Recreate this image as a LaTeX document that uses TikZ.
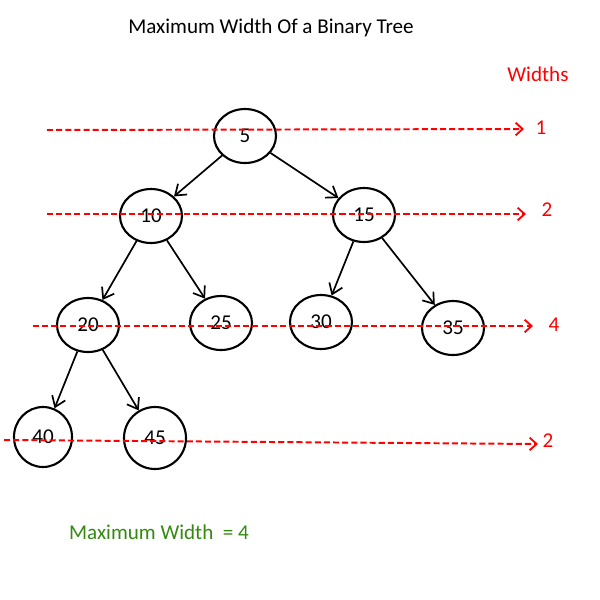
\documentclass[tikz,border=0pt]{standalone}
\usepackage{fontspec}
\setmainfont{Carlito}
\usetikzlibrary{shapes.geometric,arrows.meta}
\definecolor{wred}{RGB}{255,0,0}
\definecolor{wgreen}{RGB}{52,138,16}
\tikzset{
  tnode/.style={ellipse,draw=black,line width=1.5pt,fill=white,minimum width=62\px,minimum height=54\px,inner sep=0pt,font=\fontsize{15}{17}\selectfont},
  edge/.style={line width=1.2pt,-{Straight Barb[length=7pt,width=10pt,line width=1.2pt]}},
  wline/.style={wred,line width=1.4pt,dash pattern=on 4.3pt off 2.2pt,-{Straight Barb[length=5pt,width=9pt,line width=1.3pt]}},
  wlab/.style={text=wred,font=\fontsize{15}{17}\selectfont},
}
\newlength{\px}
\setlength{\px}{0.025cm}
\begin{document}
\begin{tikzpicture}[x=0.025cm,y=-0.025cm]
\useasboundingbox (0,0) rectangle (600,600);
\node[font=\fontsize{15}{18}\selectfont] (title) at (271,28) {Maximum Width Of a Binary Tree};
\node[wlab] (widths) at (538,74) {Widths};
\node[tnode] (n5) at (245,136) {5};
\node[tnode] (n10) at (151,216) {10};
\node[tnode] (n15) at (364,215) {15};
\node[tnode] (n20) at (88,325) {20};
\node[tnode] (n25) at (221,323) {25};
\node[tnode] (n30) at (321,322) {30};
\node[tnode] (n35) at (453,328) {35};
\node[tnode,minimum width=58\px,minimum height=60\px] (n40) at (43,437) {40};
\node[tnode,minimum width=62\px,minimum height=62\px] (n45) at (155,438) {45};
\draw[edge] (n5) -- (n10);
\draw[edge] (n5) -- (n15);
\draw[edge] (n10) -- (n20);
\draw[edge] (n10) -- (n25);
\draw[edge] (n15) -- (n30);
\draw[edge] (n15) -- (n35);
\draw[edge] (n20) -- (n40);
\draw[edge] (n20) -- (n45);
\coordinate (a1) at (47,130); \coordinate (b1) at (524,129);
\coordinate (a2) at (47,214); \coordinate (b2) at (526,214);
\coordinate (a3) at (33,326); \coordinate (b3) at (533,326);
\coordinate (a4) at (4,440); \coordinate (b4) at (538,444);
\draw[wline] (a1) -- (b1);
\draw[wline] (a2) -- (b2);
\draw[wline] (a3) -- (b3);
\draw[wline] (a4) -- (b4);
\node[wlab] (l1) at (541,128) {1};
\node[wlab] (l2) at (547,210) {2};
\node[wlab] (l3) at (554,325) {4};
\node[wlab] (l4) at (548,441) {2};
\node[text=wgreen,font=\fontsize{15}{17}\selectfont] (mw) at (159,532) {Maximum Width\ \ = 4};
\end{tikzpicture}
\end{document}
